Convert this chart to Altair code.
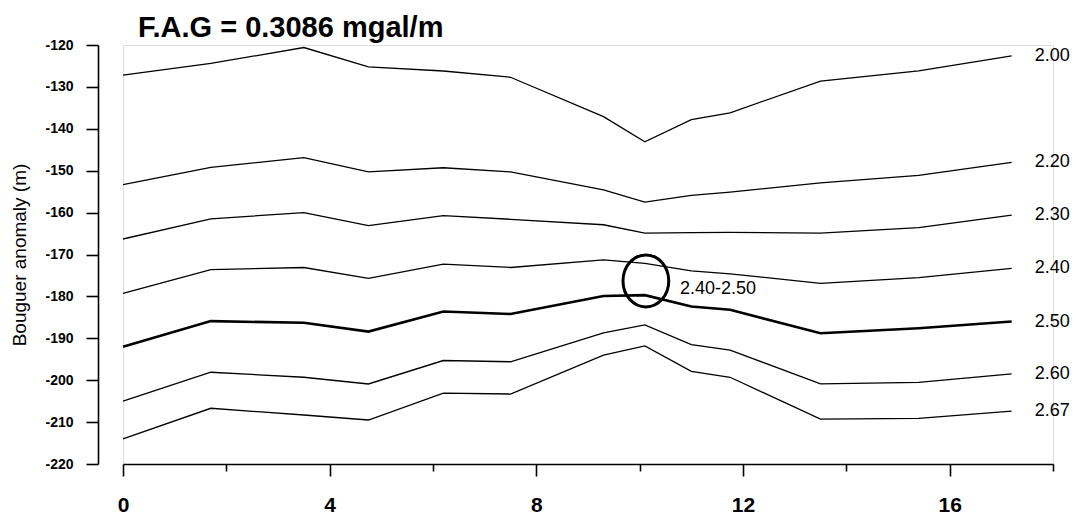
import altair as alt
import pandas as pd

# stations (km)
x_km = [0, 1.7, 3.5, 4.75, 6.2, 7.5, 9.3, 10.1, 11.0, 11.75, 13.5, 15.4, 17.2]
densities = ["2.00", "2.20", "2.30", "2.40", "2.50", "2.60", "2.67"]
d200 = [-127.2, -124.4, -120.6, -125.2, -126.2, -127.7, -137.1, -143.1, -137.8, -136.2, -128.6, -126.2, -122.6]
d220 = [-153.3, -149.2, -146.9, -150.3, -149.3, -150.3, -154.6, -157.5, -155.9, -155.1, -152.9, -151.1, -148.0]
d230 = [-166.3, -161.5, -160.0, -163.1, -160.7, -161.6, -162.9, -164.9, -164.8, -164.7, -164.9, -163.6, -160.6]
d240 = [-179.3, -173.6, -173.1, -175.7, -172.3, -173.1, -171.3, -172.1, -173.9, -174.6, -176.9, -175.5, -173.3]
d250 = [-192.0, -185.9, -186.3, -188.4, -183.6, -184.2, -179.9, -179.7, -182.4, -183.2, -188.8, -187.6, -186.0]
d260 = [-205.0, -198.1, -199.3, -200.9, -195.3, -195.6, -188.7, -186.8, -191.5, -192.8, -200.9, -200.5, -198.5]
d267 = [-214.0, -206.7, -208.3, -209.5, -203.1, -203.3, -194.0, -191.8, -197.9, -199.3, -209.3, -209.1, -207.4]
series = [d200, d220, d230, d240, d250, d260, d267]

x_ticks = [0, 2, 4, 6, 8, 10, 12, 14, 16, 18]
y_ticks = [-120, -130, -140, -150, -160, -170, -180, -190, -200, -210, -220]

circle_x = [10.12]
circle_y = [-176.3]
note_text = ["2.40-2.50"]
note_x = [10.78]
note_y = [-178.2]

rows = []
for d, vals in zip(densities, series):
    for xv, yv in zip(x_km, vals):
        rows.append({"density": d, "x": xv, "y": yv})
df = pd.DataFrame(rows)
ends = pd.DataFrame({"density": densities, "x": [x_km[-1]] * len(densities),
                     "y": [s[-1] for s in series]})
circ = pd.DataFrame({"x": circle_x, "y": circle_y})
note = pd.DataFrame({"x": note_x, "y": note_y, "t": note_text})

FONT = "Liberation Sans"

xscale = alt.Scale(domain=[0, 18], nice=False, zero=False)
yscale = alt.Scale(domain=[-220, -120], nice=False, zero=False)

xaxis = alt.Axis(
    values=x_ticks, title=None, grid=False,
    tickSize={"condition": {"test": "datum.value % 4 === 0", "value": 12}, "value": 7},
    labelExpr="datum.value % 4 === 0 ? datum.label : ''",
    labelFont=FONT, labelFontSize=21, labelFontWeight="bold", labelPadding=18,
    domainColor="black", tickColor="black", labelColor="black",
    domainWidth=1.6, tickWidth=1.6, labelFlush=False,
)
yaxis = alt.Axis(
    values=y_ticks, title="Bouguer anomaly (m)", grid=False, offset=25,
    tickSize=12, labelExpr="'' + datum.value",
    labelFont=FONT, labelFontSize=14, labelFontWeight="bold",
    labelPadding=13, titleFont=FONT, titleFontSize=19, titleFontWeight="normal",
    titlePadding=15, domainColor="black", tickColor="black", labelColor="black",
    titleColor="black", domainWidth=1.6, tickWidth=1.6, labelFlush=False,
)

lines = alt.Chart(df).mark_line(color="black").encode(
    x=alt.X("x:Q", scale=xscale, axis=xaxis),
    y=alt.Y("y:Q", scale=yscale, axis=yaxis),
    detail="density:N",
    strokeWidth=alt.when(alt.datum.density == "2.50").then(alt.value(2.6)).otherwise(alt.value(1.3)),
)

labels = alt.Chart(ends).mark_text(
    align="left", baseline="middle", dx=23, font=FONT, fontSize=18, color="black"
).encode(x="x:Q", y="y:Q", text="density:N")

ellipse = alt.Chart(circ).mark_point(
    shape="M -0.88 0 A 0.88 1 0 1 0 0.88 0 A 0.88 1 0 1 0 -0.88 0 Z",
    size=2704, filled=False, color="black", strokeWidth=3, opacity=1,
).encode(x="x:Q", y="y:Q")

ann = alt.Chart(note).mark_text(
    align="left", baseline="middle", font=FONT, fontSize=18, color="black"
).encode(x="x:Q", y="y:Q", text="t:N")

chart = alt.layer(lines, labels, ellipse, ann).properties(
    width=930, height=419,
    title=alt.Title("F.A.G = 0.3086 mgal/m", anchor="start", frame="group",
                    fontSize=29, font=FONT, fontWeight="bold", color="black",
                    dx=15, dy=32, offset=4, baseline="alphabetic"),
    autosize=alt.AutoSizeParams(type="none"),
    padding={"left": 115, "top": 37, "right": 28, "bottom": 51},
).configure_view(stroke=None).configure(background="white")

chart.save("out.html", embed_options={"renderer": "svg", "actions": False})
